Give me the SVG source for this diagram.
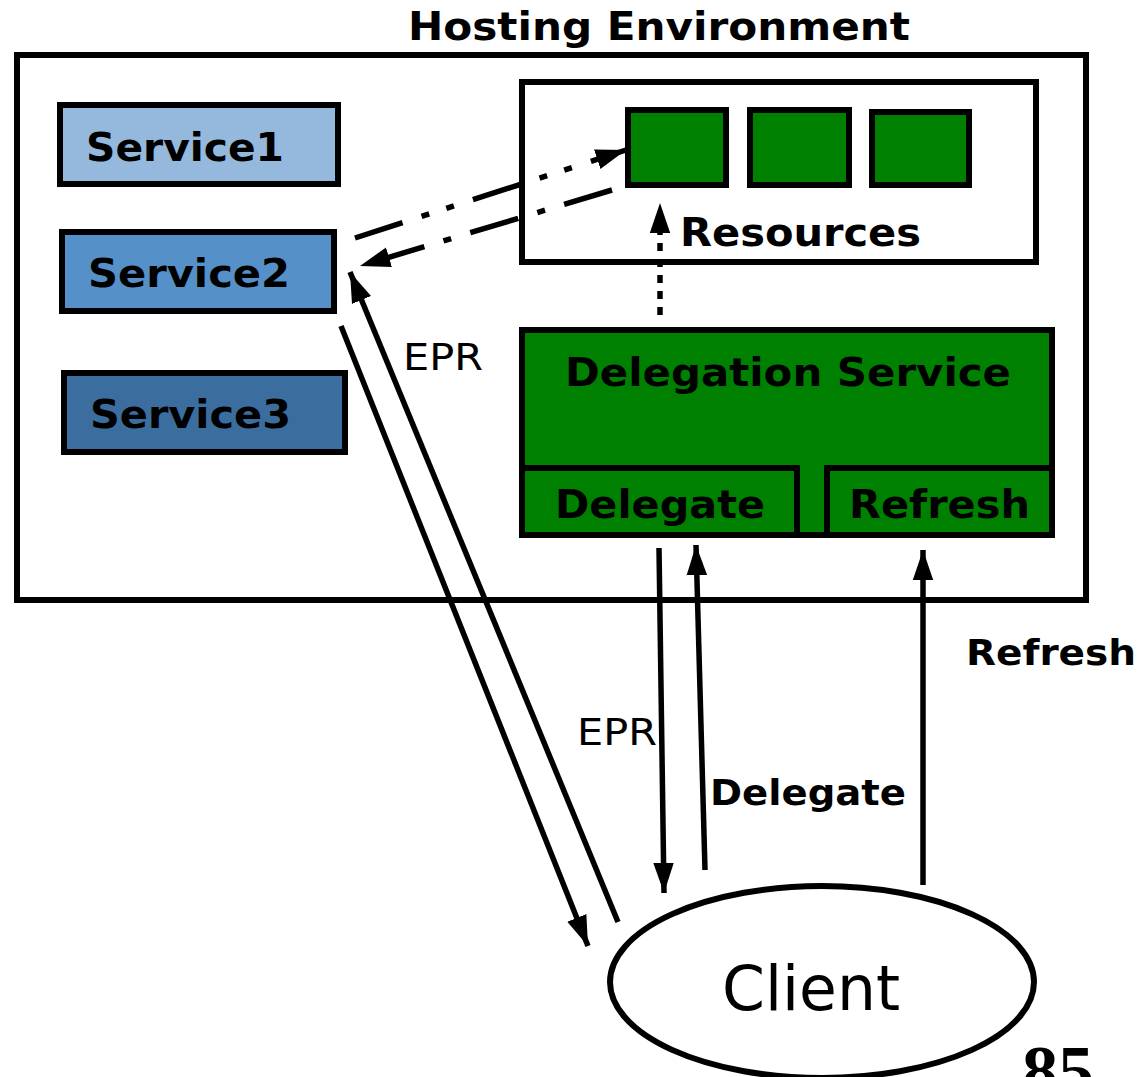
<svg xmlns="http://www.w3.org/2000/svg" width="1141" height="1077" viewBox="0 0 1141 1077">
<defs>
<marker id="ah" viewBox="0 0 10 10" refX="10" refY="5" markerWidth="5.5" markerHeight="5.5" markerUnits="strokeWidth" orient="auto">
<path d="M0,1.6 L10,5 L0,8.4 z" fill="#000"/>
</marker>
</defs>
<style>
.box{stroke:#000;stroke-width:6}
.lbl{font-family:"DejaVu Sans",Verdana,sans-serif;font-weight:bold;fill:#000}
.reg{font-family:"DejaVu Sans",Verdana,sans-serif;fill:#000}
.conn{stroke:#000;stroke-width:5.5;fill:none;marker-end:url(#ah)}
</style>
<rect width="1141" height="1077" fill="#fff"/>
<g id="hosting">
<rect class="box" x="17" y="55" width="1069" height="545" fill="#fff"/>
<text class="lbl" x="408" y="40" font-size="39" textLength="502" lengthAdjust="spacingAndGlyphs">Hosting Environment</text>
</g>
<g id="service1">
<rect class="box" x="60" y="105" width="278" height="79" fill="#95b9dc"/>
<text class="lbl" x="86" y="161" font-size="39" textLength="198" lengthAdjust="spacingAndGlyphs">Service1</text>
</g>
<g id="service2">
<rect class="box" x="62" y="232" width="272" height="79" fill="#5591c8"/>
<text class="lbl" x="88" y="287" font-size="39" textLength="202" lengthAdjust="spacingAndGlyphs">Service2</text>
</g>
<g id="service3">
<rect class="box" x="64" y="373" width="281" height="79" fill="#3b6e9f"/>
<text class="lbl" x="90" y="428" font-size="39" textLength="201" lengthAdjust="spacingAndGlyphs">Service3</text>
</g>
<g id="resources">
<rect class="box" x="522" y="82" width="514" height="180" fill="#fff"/>
<rect class="box" x="628" y="110" width="98" height="75" fill="#008000"/>
<rect class="box" x="750" y="110" width="99" height="75" fill="#008000"/>
<rect class="box" x="872" y="112" width="97" height="73" fill="#008000"/>
<text class="lbl" x="680" y="246" font-size="39" textLength="241" lengthAdjust="spacingAndGlyphs">Resources</text>
</g>
<g id="delegation">
<rect class="box" x="522" y="330" width="530" height="205" fill="#008000"/>
<text class="lbl" x="565" y="386" font-size="39" textLength="446" lengthAdjust="spacingAndGlyphs">Delegation Service</text>
<rect class="box" x="522" y="468" width="275" height="67" fill="#008000"/>
<text class="lbl" x="555" y="518" font-size="39" textLength="210" lengthAdjust="spacingAndGlyphs">Delegate</text>
<rect class="box" x="827" y="468" width="225" height="67" fill="#008000"/>
<text class="lbl" x="849" y="518" font-size="39" textLength="181" lengthAdjust="spacingAndGlyphs">Refresh</text>
</g>
<g id="client">
<ellipse class="box" cx="822" cy="982" rx="212" ry="96" fill="#fff"/>
<text class="reg" x="722" y="1010" font-size="62" textLength="178" lengthAdjust="spacingAndGlyphs">Client</text>
</g>
<g id="connectors">
<line class="conn" x1="355" y1="238" x2="626" y2="150" stroke-dasharray="50,20,8,18,8,20"/>
<line class="conn" x1="612" y1="190" x2="360" y2="266" stroke-dasharray="50,20,8,20"/>
<line class="conn" x1="660" y1="315" x2="660" y2="203" stroke-dasharray="8,8"/>
<line class="conn" x1="341" y1="326" x2="588" y2="946"/>
<line class="conn" x1="618" y1="922" x2="350" y2="272"/>
<line class="conn" x1="659" y1="548" x2="664" y2="893"/>
<line class="conn" x1="705" y1="870" x2="696" y2="545"/>
<line class="conn" x1="923" y1="885" x2="923" y2="550"/>
</g>
<g id="labels">
<text class="reg" x="403" y="370" font-size="37" textLength="80" lengthAdjust="spacingAndGlyphs">EPR</text>
<text class="reg" x="577" y="745" font-size="37" textLength="80" lengthAdjust="spacingAndGlyphs">EPR</text>
<text class="lbl" x="710" y="805" font-size="36" textLength="196" lengthAdjust="spacingAndGlyphs">Delegate</text>
<text class="lbl" x="966" y="665" font-size="36" textLength="170" lengthAdjust="spacingAndGlyphs">Refresh</text>
<text x="1022" y="1095" font-size="72" font-weight="bold" font-family="'Liberation Serif','Times New Roman',serif">85</text>
</g>
</svg>
